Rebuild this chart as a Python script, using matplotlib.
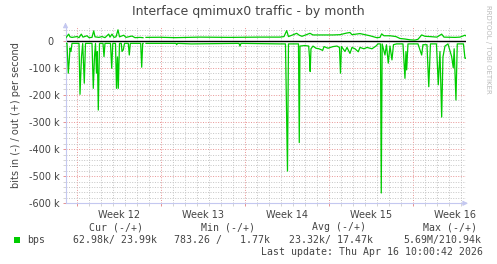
import numpy as np
import matplotlib
matplotlib.use("Agg")
import matplotlib.pyplot as plt
from matplotlib.patches import Rectangle

# time axis: days since Mon 2026-03-16 (start of week 12)
in_days = [-0.917, -0.833, -0.725, -0.625, -0.583, -0.5, -0.417, 0.167, 0.25, 0.375,
           0.475, 0.608, 0.708, 1.25, 1.358, 1.458, 1.542, 1.625, 1.692, 1.775,
           1.875, 2.167, 2.25, 2.333, 2.792, 2.892, 2.983, 3.208, 3.292, 3.375,
           3.442, 3.542, 3.692, 3.75, 3.858, 3.958, 4.275, 4.358, 4.442, 5.308,
           5.392, 5.475, 5.5, 5.625, 5.75, 8.25, 8.308, 8.375, 9.542, 13.5,
           13.583, 13.667, 16.917, 17.375, 17.542, 17.625, 18.458, 18.525, 18.583, 19.0,
           19.308, 19.375, 19.433, 19.5, 19.667, 19.917, 20.167, 20.475, 20.583, 20.917,
           21.333, 21.667, 21.875, 21.958, 22.042, 22.333, 22.5, 22.75, 22.917, 23.167,
           23.442, 23.583, 23.917, 24.167, 24.583, 24.917, 25.083, 25.292, 25.358, 25.433,
           25.667, 25.792, 25.942, 26.083, 26.25, 26.375, 26.642, 27.167, 27.333, 27.417,
           27.475, 27.583, 28.0, 28.417, 28.725, 28.833, 29.167, 29.317, 29.458, 29.958,
           30.108, 30.25, 30.392, 30.5, 30.667, 30.917, 31.225, 31.358, 31.433, 31.583,
           31.692, 32.208, 32.333, 32.4]
# inbound, kbit/s (drawn below zero)
in_kbps = [10, 10, 120, 60, 27, 40, 10, 10, 198, 60,
           10, 157, 10, 10, 176, 60, 10, 120, 40, 256,
           10, 10, 59, 10, 10, 102, 10, 10, 176, 60,
           176, 10, 10, 40, 34, 10, 10, 53, 10, 10,
           98, 10, 10, np.nan, 10, 10, 15, 10, 12, 10,
           20, 10, 12, 12, 481, 12, 12, 376, 20, 18,
           20, 60, 114, 30, 20, 28, 30, 36, 22, 28,
           22, 20, 25, 120, 22, 40, 25, 47, 25, 30,
           41, 25, 30, 25, 30, 20, 12, 12, 562, 12,
           53, 15, 83, 20, 71, 15, 12, 12, 139, 40,
           108, 12, 12, 12, 53, 15, 15, 170, 12, 12,
           163, 40, 282, 60, 20, 12, 59, 100, 30, 219,
           12, 12, 65, 65]

out_days = [-0.917, -0.692, -0.583, -0.417, 0.0, 0.167, 0.358, 0.5, 0.833, 1.0,
            1.25, 1.392, 1.5, 1.833, 2.083, 2.333, 2.642, 2.75, 2.917, 3.083,
            3.25, 3.417, 3.542, 3.892, 4.083, 4.583, 4.833, 5.25, 5.5, 5.625,
            5.75, 6.917, 8.167, 10.25, 12.75, 15.25, 16.917, 17.25, 17.475, 17.625,
            18.308, 18.525, 18.75, 19.417, 19.667, 21.333, 21.917, 22.475, 22.75, 22.917,
            23.583, 24.0, 24.417, 24.975, 25.25, 25.392, 25.583, 26.083, 26.583, 26.917,
            27.333, 27.75, 28.167, 28.417, 28.725, 29.0, 29.417, 30.0, 30.392, 30.583,
            31.5, 31.917, 32.333, 32.4]
out_kbps = [11, 24, 14, 12, 15, 11, 24, 13, 18, 11,
            12, 36, 14, 12, 15, 11, 24, 13, 24, 12,
            14, 40, 14, 20, 12, 17, 11, 12, 11, np.nan,
            12, 12.5, 11, 13, 12, 13, 13, 15, 37, 15,
            27, 20, 16, 27, 21, 21, 22, 28, 30, 22,
            26, 22, 18, 11, 12, 25, 18, 18, 15, 8,
            6, 3, 2, 5, 21, 16, 15, 13, 24, 13,
            12, 13, 20, 18]

week_starts = [0, 7, 14, 21, 28]
week_labels = ["Week 12", "Week 13", "Week 14", "Week 15", "Week 16"]
y_ticks = [0, -100e3, -200e3, -300e3, -400e3, -500e3, -600e3]
y_tick_labels = ["0\u2007", "-100 k", "-200 k", "-300 k", "-400 k", "-500 k", "-600 k"]

legend_headers = ["Cur (-/+)", "Min (-/+)", "Avg (-/+)", "Max (-/+)"]
legend_values = ["62.98k/ 23.99k", "783.26 /   1.77k", "23.32k/ 17.47k", "5.69M/210.94k"]
last_update = "Last update: Thu Apr 16 10:00:42 2026"

GREEN = "#00cc00"
TXT = "#444444"
AXC = "#c4c8f0"

W, H = 497, 264
fig = plt.figure(figsize=(W / 100, H / 100), dpi=100)
fig.patch.set_facecolor("white")


def px(x, y):
    return x / W, 1 - y / H


ax = fig.add_axes([65.5 / W, 1 - 203.3 / H, (466 - 65.5) / W, (203.3 - 26) / H])
ax.set_xlim(-0.958, 32.42)
ax.set_ylim(-600e3, 54e3)

ax.set_xticks(week_starts)
ax.set_xticks(np.arange(-0.0, 33, 1), minor=True)
ax.set_xticklabels([])
ax.set_yticks(y_ticks)
ax.set_yticks(np.arange(-600e3, 54e3, 20e3), minor=True)
ax.set_yticklabels(y_tick_labels)

ax.grid(which="minor", color="#c4c4c4", linestyle=(0, (1, 1.6)), linewidth=0.7)
ax.grid(which="major", color="#e89494", linestyle=(0, (1, 1.6)), linewidth=0.7)
ax.tick_params(which="both", length=2, width=0.6, direction="out", pad=2,
               labelsize=7, labelcolor=TXT)
ax.tick_params(axis="x", which="major", colors="#e08080")
ax.tick_params(axis="y", which="major", colors="#e08080", labelcolor=TXT)
ax.tick_params(which="minor", colors="#cccccc")
for side in ["top", "right"]:
    ax.spines[side].set_visible(False)
for side in ["left", "bottom"]:
    ax.spines[side].set_color(AXC)
    ax.spines[side].set_linewidth(0.8)
ax.set_axisbelow(True)

# arrows at ends of axes
ax.annotate("", xy=(1.012, 0), xytext=(0.99, 0), xycoords="axes fraction",
            arrowprops=dict(arrowstyle="-|>", color=AXC, lw=0.8, mutation_scale=7),
            annotation_clip=False)
ax.annotate("", xy=(0, 1.035), xytext=(0, 0.99), xycoords="axes fraction",
            arrowprops=dict(arrowstyle="-|>", color=AXC, lw=0.8, mutation_scale=7),
            annotation_clip=False)

ax.axhline(0, color="black", linewidth=1.0, zorder=2)
ax.plot(out_days, np.array(out_kbps) * 1e3, color=GREEN, linewidth=0.9, zorder=3)
ax.plot(in_days, -np.array(in_kbps) * 1e3, color=GREEN, linewidth=0.9, zorder=3)

for d, lab in zip(week_starts, week_labels):
    ax.text(d + 3.5, -0.035, lab, transform=ax.get_xaxis_transform(),
            ha="center", va="top", fontsize=7, color=TXT)

ax.set_ylabel("bits in (-) / out (+) per second", fontsize=7, color=TXT, labelpad=6)

fig.text(*px(248, 12), "Interface qmimux0 traffic - by month", ha="center",
         va="center", fontsize=9, color=TXT)
fig.text(*px(488, 5), "RRDTOOL / TOBI OETIKER", rotation=270, ha="center",
         va="top", fontsize=5, color="#bbbbbb")

mono = dict(family="DejaVu Sans Mono", fontsize=7.1, color=TXT, va="center")
for xh, h in zip([89, 201, 312, 423], legend_headers):
    fig.text(*px(xh, 227.5), h, ha="left", **mono)
fig.patches.append(Rectangle(px(14, 243), 6 / W, 6 / H, transform=fig.transFigure,
                             facecolor=GREEN, edgecolor="none"))
fig.text(*px(27, 240), "bps", ha="left", **mono)
for xv, v in zip([73, 174, 289, 403], legend_values):
    fig.text(*px(xv, 240), v, ha="left", **mono)
fig.text(*px(483, 252), last_update, ha="right", **mono)

fig.savefig("out.png", dpi=100)
